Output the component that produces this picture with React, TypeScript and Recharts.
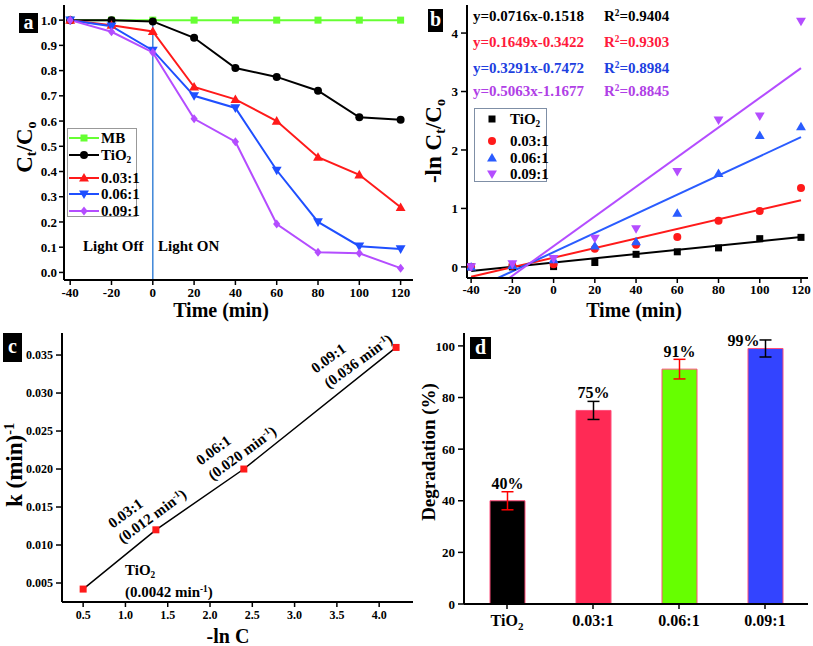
import React from "react";
import {
  ComposedChart,
  LineChart,
  BarChart,
  Line,
  Bar,
  Scatter,
  XAxis,
  YAxis,
  ReferenceLine,
  ErrorBar,
  LabelList,
  Cell,
} from "recharts";

const FONT = '"Liberation Serif", "Times New Roman", Times, serif';

// ---- panel a: Ct/C0 against irradiation time
const times = [-40, -20, 0, 20, 40, 60, 80, 100, 120];
const ratioMB = [1, 1, 1, 1, 1, 1, 1, 1, 1];
const ratioTiO2 = [1.0, 1.0, 0.995, 0.93, 0.81, 0.775, 0.72, 0.615, 0.605];
const ratio003 = [1.0, 0.98, 0.955, 0.735, 0.686, 0.6, 0.457, 0.387, 0.258];
const ratio006 = [1.0, 0.976, 0.88, 0.7, 0.652, 0.405, 0.2, 0.104, 0.093];
const ratio009 = [1.0, 0.954, 0.872, 0.609, 0.518, 0.192, 0.08, 0.076, 0.017];
const ratioTicks = [0, 0.1, 0.2, 0.3, 0.4, 0.5, 0.6, 0.7, 0.8, 0.9, 1.0];

// ---- panel b: -ln(Ct/C0) with linear fits
const lnTiO2 = [0, 0, 0.005, 0.075, 0.215, 0.258, 0.325, 0.483, 0.505];
const ln003 = [0, 0.02, 0.045, 0.31, 0.38, 0.51, 0.79, 0.955, 1.35];
const ln006 = [0, 0.025, 0.125, 0.36, 0.43, 0.92, 1.6, 2.25, 2.4];
const ln009 = [0, 0.05, 0.14, 0.49, 0.65, 1.63, 2.51, 2.58, 4.2];
const fitTiO2 = [{ x: -40, y: -0.07 }, { x: 120, y: 0.51 }];
const fit003 = [{ x: -40, y: -0.17 }, { x: 120, y: 1.14 }];
const fit006 = [{ x: -27, y: -0.19 }, { x: 120, y: 2.22 }];
const fit009 = [{ x: -21.5, y: -0.19 }, { x: 120, y: 3.4 }];
const lnTicks = [0, 1, 2, 3, 4];
const fitEquations = ["y=0.0716x-0.1518", "y=0.1649x-0.3422", "y=0.3291x-0.7472", "y=0.5063x-1.1677"];
const fitR2 = ["0.9404", "0.9303", "0.8984", "0.8845"];

// ---- panel c: rate constant against -ln C
const lnC = [0.5, 1.36, 2.4, 4.2];
const kRate = [0.0042, 0.012, 0.02, 0.036];
const lnCTicks = [0.5, 1.0, 1.5, 2.0, 2.5, 3.0, 3.5, 4.0];
const kTicks = [0.005, 0.01, 0.015, 0.02, 0.025, 0.03, 0.035];

// ---- panel d: degradation after 120 min
const samples = ["TiO2", "0.03:1", "0.06:1", "0.09:1"];
const degradation = [40, 75, 91, 99];
const degradationErr = [3.5, 3.5, 3.8, 3.3];
const degTicks = [0, 20, 40, 60, 80, 100];

type Shape = "square" | "circle" | "up" | "down" | "diamond";

const Marker = ({ shape, x, y, s, fill }: { shape: Shape; x: number; y: number; s: number; fill: string }) => {
  const h = s / 2;
  if (shape === "square") return <rect x={x - h} y={y - h} width={s} height={s} fill={fill} />;
  if (shape === "circle") return <circle cx={x} cy={y} r={h} fill={fill} />;
  if (shape === "up")
    return <polygon points={`${x},${y - h * 1.1} ${x + h * 1.1},${y + h * 0.8} ${x - h * 1.1},${y + h * 0.8}`} fill={fill} />;
  if (shape === "down")
    return <polygon points={`${x},${y + h * 1.1} ${x + h * 1.1},${y - h * 0.8} ${x - h * 1.1},${y - h * 0.8}`} fill={fill} />;
  return <polygon points={`${x},${y - h} ${x + h * 0.8},${y} ${x},${y + h} ${x - h * 0.8},${y}`} fill={fill} />;
};

const seriesA: { key: string; name: string; color: string; shape: Shape; size: number; values: number[] }[] = [
  { key: "mb", name: "MB", color: "#66ff33", shape: "square", size: 7, values: ratioMB },
  { key: "ti", name: "TiO2", color: "#000000", shape: "circle", size: 8, values: ratioTiO2 },
  { key: "s1", name: "0.03:1", color: "#ff1a1a", shape: "up", size: 9, values: ratio003 },
  { key: "s2", name: "0.06:1", color: "#1f4fff", shape: "down", size: 9, values: ratio006 },
  { key: "s3", name: "0.09:1", color: "#b44dff", shape: "diamond", size: 9, values: ratio009 },
];

const seriesB: { name: string; color: string; text: string; shape: Shape; size: number; values: number[]; fit: { x: number; y: number }[] }[] = [
  { name: "TiO2", color: "#000000", text: "#000000", shape: "square", size: 7, values: lnTiO2, fit: fitTiO2 },
  { name: "0.03:1", color: "#ff1a1a", text: "#ff1a3c", shape: "circle", size: 8, values: ln003, fit: fit003 },
  { name: "0.06:1", color: "#2a5cff", text: "#2040e0", shape: "up", size: 9, values: ln006, fit: fit006 },
  { name: "0.09:1", color: "#b44dff", text: "#b040e6", shape: "down", size: 9, values: ln009, fit: fit009 },
];

const barColors = ["#000000", "#ff2a55", "#66ff00", "#3344ff"];
const errColors = ["#ff0000", "#000000", "#ff0000", "#000000"];

const tableA = times.map((t, i) => {
  const row: Record<string, number> = { t };
  seriesA.forEach((s) => (row[s.key] = s.values[i]));
  return row;
});
const tableC = lnC.map((x, i) => ({ x, k: kRate[i] }));
const tableD = samples.map((name, i) => ({
  name,
  value: degradation[i],
  label: `${degradation[i]}%`,
  errRed: errColors[i] === "#ff0000" ? degradationErr[i] : null,
  errBlack: errColors[i] === "#000000" ? degradationErr[i] : null,
}));

const frame = { stroke: "#000", strokeWidth: 2 };
const tickLn = { stroke: "#000", strokeWidth: 1.5 };
const tickStyle = (size: number) => ({ fontSize: size, fontWeight: 700, fill: "#000", fontFamily: FONT });

const Sub = ({ c }: { c: string }) => (
  <span style={{ fontSize: "0.62em", position: "relative", top: "0.3em" }}>{c}</span>
);
const Sup = ({ c }: { c: string }) => (
  <span style={{ fontSize: "0.62em", position: "relative", top: "-0.55em" }}>{c}</span>
);

const nameNode = (name: string) =>
  name === "TiO2" ? (
    <>
      TiO
      <Sub c="2" />
    </>
  ) : (
    name
  );

type TxtProps = {
  x: number;
  y: number;
  size?: number;
  color?: string;
  center?: boolean;
  rotate?: number;
  children: React.ReactNode;
};
const Txt = ({ x, y, size = 15, color = "#000", center = false, rotate = 0, children }: TxtProps) => (
  <div
    style={{
      position: "absolute",
      left: x,
      top: y,
      fontSize: size,
      color,
      fontWeight: 700,
      fontFamily: FONT,
      lineHeight: 1,
      whiteSpace: "nowrap",
      transformOrigin: center ? "50% 50%" : "0 50%",
      transform: center
        ? `translate(-50%, -50%) rotate(${rotate}deg)`
        : `translateY(-50%) rotate(${rotate}deg)`,
    }}
  >
    {children}
  </div>
);

const PanelTag = ({ x, y, w, h, letter }: { x: number; y: number; w: number; h: number; letter: string }) => (
  <div
    style={{
      position: "absolute",
      left: x,
      top: y,
      width: w,
      height: h,
      background: "#000",
      color: "#fff",
      fontFamily: FONT,
      fontWeight: 700,
      fontSize: 20,
      lineHeight: `${h - 2}px`,
      textAlign: "center",
    }}
  >
    {letter}
  </div>
);

const TiTick = (props: any) => {
  const { x, y, payload } = props;
  const v = String(payload.value);
  return (
    <text x={x} y={y} dy={14} textAnchor="middle" fontSize={16} fontWeight={700} fontFamily={FONT} fill="#000">
      {v === "TiO2" ? (
        <>
          TiO
          <tspan fontSize={11} dy={4}>
            2
          </tspan>
        </>
      ) : (
        v
      )}
    </text>
  );
};

const renderBarLabel = (p: any) => {
  const vb = p.viewBox || p;
  const last = p.index === samples.length - 1;
  const cx = vb.x + vb.width / 2 + (last ? -22 : 0);
  const cy = vb.y - (last ? 7 : 17);
  return (
    <text x={cx} y={cy} dy={5} textAnchor="middle" fontSize={16} fontWeight={700} fontFamily={FONT} fill="#000">
      {p.value}
    </text>
  );
};

function PanelA() {
  return (
    <div style={{ position: "absolute", left: 0, top: 0 }}>
      <ComposedChart width={420} height={320} data={tableA} margin={{ top: 5, right: 7, bottom: 10, left: 24 }}>
        <XAxis
          dataKey="t"
          type="number"
          domain={[-43, 126]}
          ticks={times}
          allowDataOverflow
          height={30}
          tickSize={5}
          tickMargin={3}
          tick={tickStyle(13)}
          axisLine={frame}
          tickLine={tickLn}
        />
        <XAxis xAxisId="top" orientation="top" type="number" domain={[-43, 126]} height={0} tick={false} tickLine={false} axisLine={frame} />
        <YAxis
          type="number"
          domain={[-0.03, 1.06]}
          ticks={ratioTicks}
          allowDataOverflow
          width={40}
          tickSize={5}
          tickMargin={2}
          tickFormatter={(v: number) => v.toFixed(1)}
          tick={tickStyle(13)}
          axisLine={frame}
          tickLine={tickLn}
        />
        <YAxis yAxisId="right" orientation="right" type="number" domain={[0, 1]} width={0} tick={false} tickLine={false} axisLine={frame} />
        <ReferenceLine segment={[{ x: 0, y: 1 }, { x: 0, y: -0.03 }]} stroke="#3d86d8" strokeWidth={1.5} />
        {seriesA.map((s) => (
          <Line
            key={s.key}
            dataKey={s.key}
            stroke={s.color}
            strokeWidth={2}
            isAnimationActive={false}
            dot={(p: any) => <Marker key={`${s.key}-${p.index}`} shape={s.shape} x={p.cx} y={p.cy} s={s.size} fill={s.color} />}
            activeDot={false}
          />
        ))}
      </ComposedChart>
    </div>
  );
}

function PanelB() {
  return (
    <div style={{ position: "absolute", left: 400, top: 0 }}>
      <ComposedChart width={413} height={320} margin={{ top: 5, right: 5, bottom: 12, left: 37 }}>
        <XAxis
          dataKey="x"
          type="number"
          domain={[-42, 123.4]}
          ticks={times}
          allowDataOverflow
          height={30}
          tickSize={5}
          tickMargin={2}
          tick={tickStyle(13)}
          axisLine={frame}
          tickLine={tickLn}
        />
        <XAxis xAxisId="top" orientation="top" type="number" domain={[-42, 123.4]} height={0} tick={false} tickLine={false} axisLine={frame} />
        <YAxis
          type="number"
          domain={[-0.19, 4.48]}
          ticks={lnTicks}
          allowDataOverflow
          width={30}
          tickSize={6}
          tickMargin={3}
          tick={tickStyle(13)}
          axisLine={frame}
          tickLine={tickLn}
        />
        <YAxis yAxisId="right" orientation="right" type="number" domain={[0, 1]} width={0} tick={false} tickLine={false} axisLine={frame} />
        {seriesB.map((s) => (
          <Line
            key={`fit-${s.name}`}
            data={s.fit}
            dataKey="y"
            stroke={s.color}
            strokeWidth={2}
            dot={false}
            activeDot={false}
            isAnimationActive={false}
          />
        ))}
        {seriesB.map((s) => (
          <Scatter
            key={`pts-${s.name}`}
            data={times.map((t, i) => ({ x: t, y: s.values[i] }))}
            dataKey="y"
            isAnimationActive={false}
            shape={(p: any) => <Marker shape={s.shape} x={p.cx} y={p.cy} s={s.size} fill={s.color} />}
          />
        ))}
      </ComposedChart>
    </div>
  );
}

function PanelC() {
  return (
    <div style={{ position: "absolute", left: 0, top: 310 }}>
      <LineChart width={420} height={336} data={tableC} margin={{ top: 23, right: 7, bottom: 14, left: 12 }}>
        <XAxis
          dataKey="x"
          type="number"
          domain={[0.25, 4.4]}
          ticks={lnCTicks}
          allowDataOverflow
          height={30}
          tickSize={5}
          tickMargin={3}
          tickFormatter={(v: number) => v.toFixed(1)}
          tick={tickStyle(12)}
          axisLine={frame}
          tickLine={tickLn}
        />
        <XAxis xAxisId="top" orientation="top" type="number" domain={[0.25, 4.4]} height={0} tick={false} tickLine={false} axisLine={frame} />
        <YAxis
          type="number"
          domain={[0.0025, 0.0379]}
          ticks={kTicks}
          allowDataOverflow
          width={50}
          tickSize={6}
          tickMargin={3}
          tickFormatter={(v: number) => v.toFixed(3)}
          tick={tickStyle(12)}
          axisLine={frame}
          tickLine={tickLn}
        />
        <YAxis yAxisId="right" orientation="right" type="number" domain={[0, 1]} width={0} tick={false} tickLine={false} axisLine={frame} />
        <Line
          dataKey="k"
          stroke="#000"
          strokeWidth={1.5}
          isAnimationActive={false}
          activeDot={false}
          dot={(p: any) => <Marker key={`c-${p.index}`} shape="square" x={p.cx} y={p.cy} s={7} fill="#ff1a1a" />}
        />
      </LineChart>
    </div>
  );
}

function PanelD() {
  return (
    <div style={{ position: "absolute", left: 400, top: 310 }}>
      <BarChart width={413} height={336} data={tableD} margin={{ top: 23, right: 5, bottom: 12, left: 24 }} barSize={35}>
        <XAxis dataKey="name" height={30} tickSize={5} tickMargin={3} tick={<TiTick />} axisLine={frame} tickLine={tickLn} />
        <XAxis xAxisId="top" orientation="top" dataKey="name" height={0} tick={false} tickLine={false} axisLine={frame} />
        <YAxis
          type="number"
          domain={[0, 105]}
          ticks={degTicks}
          width={40}
          tickSize={6}
          tickMargin={3}
          tick={tickStyle(13)}
          axisLine={frame}
          tickLine={tickLn}
        />
        <YAxis yAxisId="right" orientation="right" type="number" domain={[0, 1]} width={0} tick={false} tickLine={false} axisLine={frame} />
        <Bar dataKey="value" stroke="#ff4d7a" strokeWidth={1} isAnimationActive={false}>
          {tableD.map((d, i) => (
            <Cell key={d.name} fill={barColors[i]} />
          ))}
          <ErrorBar dataKey="errRed" width={6} stroke="#ff0000" strokeWidth={1.5} direction="y" />
          <ErrorBar dataKey="errBlack" width={6} stroke="#000000" strokeWidth={1.5} direction="y" />
          <LabelList dataKey="label" content={renderBarLabel} />
        </Bar>
      </BarChart>
    </div>
  );
}

const legendRowsA = [9, 26, 49, 65, 82];
const legendRowsB = [10, 32, 49, 65];
const eqRows = [16, 42, 68, 91];

export default function App() {
  return (
    <div style={{ position: "absolute", left: 0, top: 0, width: 813, height: 646, background: "#fff", fontFamily: FONT }}>
      <PanelA />
      <PanelB />
      <PanelC />
      <PanelD />

      {/* panel a overlays */}
      <PanelTag x={19} y={13} w={19} h={20} letter="a" />
      <Txt x={24} y={147} size={23} center rotate={-90}>
        C<Sub c="t" />/C<Sub c="o" />
      </Txt>
      <Txt x={221} y={310} size={20} center>
        Time (min)
      </Txt>
      <Txt x={83} y={246} size={15}>
        Light Off
      </Txt>
      <Txt x={158} y={246} size={15}>
        Light ON
      </Txt>
      <div style={{ position: "absolute", left: 67, top: 128, width: 70, height: 89, border: "1px solid #999", background: "#fff", boxSizing: "border-box" }}>
        {seriesA.map((s, i) => (
          <div key={s.key} style={{ position: "absolute", left: 0, top: legendRowsA[i] - 6, height: 12, width: 70 }}>
            <svg width={32} height={12} style={{ position: "absolute", left: 1, top: 0 }}>
              <line x1={0} y1={6} x2={30} y2={6} stroke={s.color} strokeWidth={2} />
              <Marker shape={s.shape} x={15} y={6} s={s.size} fill={s.color} />
            </svg>
            <Txt x={33} y={6} size={15}>
              {nameNode(s.name)}
            </Txt>
          </div>
        ))}
      </div>

      {/* panel b overlays */}
      <PanelTag x={428} y={9} w={15} h={23} letter="b" />
      <Txt x={433} y={141} size={23} center rotate={-90}>
        -ln C<Sub c="t" />/C<Sub c="o" />
      </Txt>
      <Txt x={634} y={310} size={20} center>
        Time (min)
      </Txt>
      {seriesB.map((s, i) => (
        <React.Fragment key={`eq-${s.name}`}>
          <Txt x={473} y={eqRows[i]} size={15} color={s.text}>
            {fitEquations[i]}
          </Txt>
          <Txt x={604} y={eqRows[i]} size={15} color={s.text}>
            R<Sup c="2" />={fitR2[i]}
          </Txt>
        </React.Fragment>
      ))}
      <div style={{ position: "absolute", left: 474, top: 108, width: 73, height: 74, border: "1px solid #7f8fa6", background: "#fff", boxSizing: "border-box" }}>
        {seriesB.map((s, i) => (
          <div key={`lg-${s.name}`} style={{ position: "absolute", left: 0, top: legendRowsB[i] - 6, height: 12, width: 73 }}>
            <svg width={20} height={12} style={{ position: "absolute", left: 7, top: 0 }}>
              <Marker shape={s.shape} x={10} y={6} s={s.size} fill={s.color} />
            </svg>
            <Txt x={35} y={6} size={15}>
              {nameNode(s.name)}
            </Txt>
          </div>
        ))}
      </div>

      {/* panel c overlays */}
      <PanelTag x={3} y={333} w={19} h={29} letter="c" />
      <Txt x={14} y={465} size={23} center rotate={-90}>
        k (min)<Sup c="-1" />
      </Txt>
      <Txt x={228} y={636} size={20} center>
        -ln C
      </Txt>
      <Txt x={125} y={570} size={15}>
        TiO<Sub c="2" />
      </Txt>
      <Txt x={125} y={592} size={15}>
        (0.0042 min<Sup c="-1" />)
      </Txt>
      <Txt x={110} y={525} size={15} rotate={-36}>
        {samples[1]}
      </Txt>
      <Txt x={120} y={540} size={15} rotate={-36}>
        (0.012 min<Sup c="-1" />)
      </Txt>
      <Txt x={198} y={462} size={15} rotate={-36}>
        {samples[2]}
      </Txt>
      <Txt x={210} y={477} size={15} rotate={-36}>
        (0.020 min<Sup c="-1" />)
      </Txt>
      <Txt x={313} y={370} size={15} rotate={-36}>
        {samples[3]}
      </Txt>
      <Txt x={326} y={385} size={15} rotate={-36}>
        (0.036 min<Sup c="-1" />)
      </Txt>

      {/* panel d overlays */}
      <PanelTag x={470} y={337} w={21} h={22} letter="d" />
      <Txt x={428} y={452} size={19} center rotate={-90}>
        Degradation (%)
      </Txt>
    </div>
  );
}
